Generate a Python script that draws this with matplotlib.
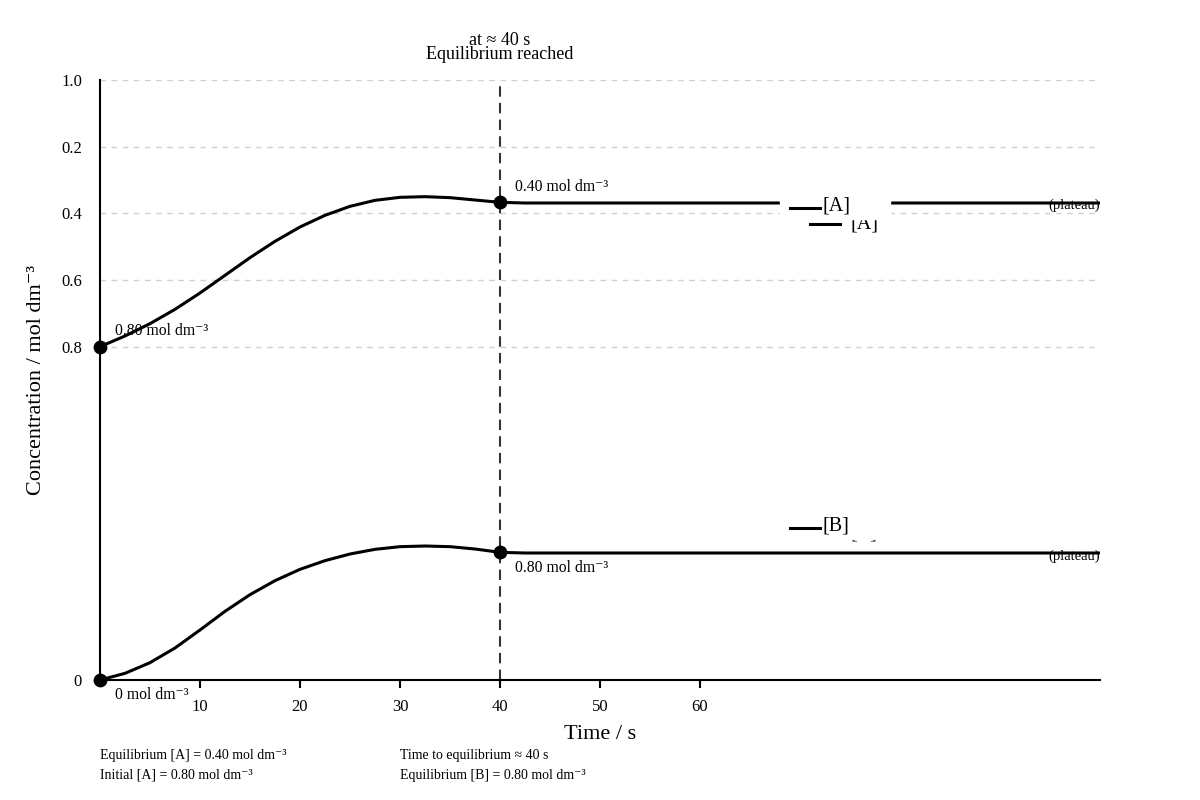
import numpy as np
import matplotlib.pyplot as plt

plt.rcParams['font.family'] = ['Liberation Serif', 'DejaVu Serif']

# time (s) and curve heights (axis units)
time = [0, 2.5, 5, 7.5, 10, 12.5, 15, 17.5, 20, 22.5, 25, 27.5, 30, 32.5, 35, 37.5, 40, 42.5, 45,
        50, 60, 70, 80, 90, 100]
conc_a = [0.500, 0.516, 0.5345, 0.556, 0.5805, 0.607, 0.6335, 0.658, 0.6795, 0.697, 0.7105, 0.7195, 0.724,
          0.725, 0.7235, 0.720, 0.7165, 0.7155, 0.7155,
          0.7155, 0.7155, 0.7155, 0.7155, 0.7155, 0.7155]
conc_b = [0.000, 0.010, 0.026, 0.048, 0.075, 0.103, 0.128, 0.149, 0.166, 0.179, 0.189, 0.196, 0.200,
          0.201, 0.2, 0.1965, 0.1915, 0.1905, 0.1905,
          0.1905, 0.1905, 0.1905, 0.1905, 0.1905, 0.1905]

t_eq = 40
x_ticks = [10, 20, 30, 40, 50, 60]
y_ticks = [0, 0.5, 0.6, 0.7, 0.8, 0.9]
y_labels = ['0', '0.8', '0.6', '0.4', '0.2', '1.0']

fig = plt.figure(figsize=(12, 8), dpi=100)
ax = fig.add_axes([100/1200, 120/800, 1000/1200, 600/800])
ax.set_xlim(0, 100)
ax.set_ylim(0, 0.9)

for y in y_ticks[1:]:
    ax.axhline(y, color='#d0d0d0', lw=1, ls=(0, (4, 4)), zorder=0)

ax.axvline(t_eq, color='#333333', lw=1.5, ls=(0, (5, 3)), zorder=1)

ax.plot(time, conc_a, color='black', lw=2.2, zorder=3, solid_joinstyle='round')
ax.plot(time, conc_b, color='black', lw=2.2, zorder=3, solid_joinstyle='round')

i_eq = time.index(t_eq)
ax.scatter([0, t_eq, 0, t_eq], [conc_a[0], conc_a[i_eq], conc_b[0], conc_b[i_eq]],
           s=80, color='black', zorder=5, clip_on=False)

# point labels
ax.text(1.5, conc_a[0] + 0.024, '0.80 mol dm⁻³', fontsize=11.3, va='center')
ax.text(41.5, conc_a[i_eq] + 0.023, '0.40 mol dm⁻³', fontsize=11.3, va='center')
ax.text(41.5, conc_b[i_eq] - 0.023, '0.80 mol dm⁻³', fontsize=11.3, va='center')
ax.text(1.5, -0.022, '0 mol dm⁻³', fontsize=11.3, va='center')

# plateau notes under the lines
ax.text(100, conc_a[-1] - 0.004, '(plateau)', fontsize=10.5, ha='right', va='center', zorder=2)
ax.text(100, conc_b[-1] - 0.005, '(plateau)', fontsize=10.5, ha='right', va='center', zorder=2)

# series labels (a stray second copy sits under each)
ax.plot([71, 74], [0.684, 0.684], color='black', lw=2.2, zorder=4)
ax.text(75, 0.684, '[A]', fontsize=14.5, va='center', zorder=4)
ax.plot([71, 74], [0.221, 0.221], color='black', lw=2.2, zorder=4)
ax.text(75, 0.221, '[B]', fontsize=14.5, va='center', zorder=4)
ax.add_patch(plt.Rectangle((68, 0.691), 11, 0.045, color='white', zorder=6))
ax.add_patch(plt.Rectangle((68, 0.211), 11, 0.045, color='white', zorder=6))
ax.plot([69, 72], [0.708, 0.708], color='black', lw=2.2, zorder=7)
ax.text(72.2, 0.711, '[A]', fontsize=14.5, va='center', zorder=7)
ax.plot([69, 72], [0.228, 0.228], color='black', lw=2.2, zorder=7)
ax.text(72.2, 0.231, '[B]', fontsize=14.5, va='center', zorder=7)

ax.text(t_eq, 1.066, 'at ≈ 40 s', fontsize=13, ha='center', va='center',
        transform=ax.get_xaxis_transform())
ax.text(t_eq, 1.043, 'Equilibrium reached', fontsize=13, ha='center', va='center',
        transform=ax.get_xaxis_transform())

ax.spines['top'].set_visible(False)
ax.spines['right'].set_visible(False)
ax.spines['left'].set_linewidth(1.5)
ax.spines['bottom'].set_linewidth(1.5)

ax.set_xticks(x_ticks)
ax.set_yticks(y_ticks)
ax.set_yticklabels(y_labels)
ax.tick_params(axis='x', length=6, width=1.5, labelsize=12, pad=8)
ax.tick_params(axis='y', length=0, labelsize=12, pad=13)

ax.set_xlabel('Time / s', fontsize=16, labelpad=7)
ax.set_ylabel('Concentration / mol dm⁻³', fontsize=16)
ax.yaxis.set_label_coords(-0.054, 0.5)

# notes below the chart
fig.text(100/1200, 1 - 755/800, 'Equilibrium [A] = 0.40 mol dm⁻³', fontsize=10, va='center')
fig.text(100/1200, 1 - 775/800, 'Initial [A] = 0.80 mol dm⁻³', fontsize=10, va='center')
fig.text(400/1200, 1 - 755/800, 'Time to equilibrium ≈ 40 s', fontsize=10, va='center')
fig.text(400/1200, 1 - 775/800, 'Equilibrium [B] = 0.80 mol dm⁻³', fontsize=10, va='center')

fig.savefig('out.png', dpi=100)
plt.close()
